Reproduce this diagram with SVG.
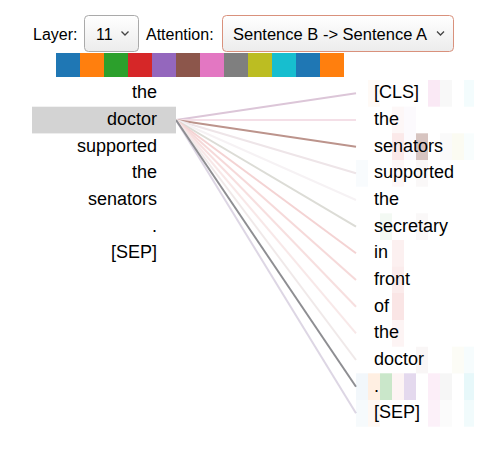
<svg xmlns="http://www.w3.org/2000/svg" width="500" height="450" viewBox="0 0 500 450">
<defs>
<linearGradient id="selg" x1="0" y1="0" x2="0" y2="1">
<stop offset="0" stop-color="#ffffff"/>
<stop offset="1" stop-color="#ececec"/>
</linearGradient>
</defs>
<style>
text{font-family:"Liberation Sans",Arial,sans-serif;fill:#000}
.ui{font-size:16px}
.tok{font-size:18px}
.l{text-anchor:end}
.sel{fill:url(#selg);stroke:#aaaaaa;stroke-width:1}
.chev{fill:none;stroke:#444;stroke-width:1.3}
.ln{stroke-width:2;fill:none}
.c0{fill:#1f77b4}.c1{fill:#ff7f0e}.c2{fill:#2ca02c}.c3{fill:#d62728}.c4{fill:#9467bd}.c5{fill:#8c564b}.c6{fill:#e377c2}.c7{fill:#7f7f7f}.c8{fill:#bcbd22}.c9{fill:#17becf}
</style>

<g id="controls">
<text class="ui" x="33" y="40">Layer:</text>
<rect class="sel" x="84.5" y="15.5" width="54" height="36" rx="4"/>
<text class="ui" x="96" y="40">11</text>
<path class="chev" d="M121.5 31.5 L125 35 L128.5 31.5"/>
<text class="ui" x="146" y="40">Attention:</text>
<rect class="sel" x="222.5" y="15.5" width="231" height="36" rx="4" style="stroke:#d9917c"/>
<text class="ui" x="233" y="40" style="font-size:16.5px">Sentence B -&gt; Sentence A</text>
<path class="chev" d="M437 31.5 L440.5 35 L444 31.5"/>
</g>

<g id="head-legend">
<rect class="c0" x="56" y="53" width="24" height="24"/>
<rect class="c1" x="80" y="53" width="24" height="24"/>
<rect class="c2" x="104" y="53" width="24" height="24"/>
<rect class="c3" x="128" y="53" width="24" height="24"/>
<rect class="c4" x="152" y="53" width="24" height="24"/>
<rect class="c5" x="176" y="53" width="24" height="24"/>
<rect class="c6" x="200" y="53" width="24" height="24"/>
<rect class="c7" x="224" y="53" width="24" height="24"/>
<rect class="c8" x="248" y="53" width="24" height="24"/>
<rect class="c9" x="272" y="53" width="24" height="24"/>
<rect class="c0" x="296" y="53" width="24" height="24"/>
<rect class="c1" x="320" y="53" width="24" height="24"/>
</g>

<g id="connectors">
<line class="ln" x1="176" y1="120" x2="356" y2="93.3" stroke="#dcc6d8"/>
<line class="ln" x1="176" y1="120" x2="356" y2="120" stroke="#f4dfe7"/>
<line class="ln" x1="176" y1="120" x2="356" y2="146.7" stroke="#bc948c"/>
<line class="ln" x1="176" y1="120" x2="356" y2="173.3" stroke="#eee5e8"/>
<line class="ln" x1="176" y1="120" x2="356" y2="200" stroke="#f6f2f4"/>
<line class="ln" x1="176" y1="120" x2="356" y2="226.7" stroke="#dcdcd6"/>
<line class="ln" x1="176" y1="120" x2="356" y2="253.3" stroke="#f4d3d3"/>
<line class="ln" x1="176" y1="120" x2="356" y2="280" stroke="#f6d9d9"/>
<line class="ln" x1="176" y1="120" x2="356" y2="306.7" stroke="#f7dfdf"/>
<line class="ln" x1="176" y1="120" x2="356" y2="333.3" stroke="#f8e8e8"/>
<line class="ln" x1="176" y1="120" x2="356" y2="360" stroke="#f0e9e9"/>
<line class="ln" x1="176" y1="120" x2="356" y2="413.3" stroke="#ddd6e4"/>
<line class="ln" x1="176" y1="120" x2="356" y2="386.7" stroke="#8e8e92"/>
</g>

<g id="left-tokens">
<g id="l0"><text class="tok l" x="157" y="98.3">the</text></g>
<g id="l1"><rect x="32" y="106.7" width="144" height="26.7" fill="#d3d3d3"/><text class="tok l" x="157" y="125">doctor</text></g>
<g id="l2"><text class="tok l" x="157" y="151.7">supported</text></g>
<g id="l3"><text class="tok l" x="157" y="178.3">the</text></g>
<g id="l4"><text class="tok l" x="157" y="205">senators</text></g>
<g id="l5"><text class="tok l" x="157" y="231.7">.</text></g>
<g id="l6"><text class="tok l" x="157" y="258.3">[SEP]</text></g>
</g>

<g id="right-heatmap">
<rect class="c1" x="368" y="80" width="12" height="26.7" fill-opacity="0.04"/>
<rect class="c6" x="428" y="80" width="12" height="26.7" fill-opacity="0.16"/>
<rect class="c7" x="440" y="80" width="12" height="26.7" fill-opacity="0.05"/>
<rect class="c9" x="464" y="80" width="10" height="26.7" fill-opacity="0.05"/>
<rect class="c3" x="392" y="106.7" width="12" height="26.7" fill-opacity="0.04"/>
<rect class="c4" x="404" y="106.7" width="12" height="26.7" fill-opacity="0.03"/>
<rect class="c3" x="392" y="133.3" width="12" height="26.7" fill-opacity="0.1"/>
<rect class="c4" x="404" y="133.3" width="12" height="26.7" fill-opacity="0.03"/>
<rect class="c5" x="416" y="133.3" width="12" height="26.7" fill-opacity="0.35"/>
<rect class="c7" x="440" y="133.3" width="12" height="26.7" fill-opacity="0.04"/>
<rect class="c8" x="452" y="133.3" width="12" height="26.7" fill-opacity="0.06"/>
<rect class="c9" x="464" y="133.3" width="10" height="26.7" fill-opacity="0.03"/>
<rect class="c0" x="356" y="160" width="12" height="26.7" fill-opacity="0.03"/>
<rect class="c3" x="392" y="160" width="12" height="26.7" fill-opacity="0.03"/>
<rect class="c5" x="416" y="160" width="12" height="26.7" fill-opacity="0.04"/>
<rect class="c2" x="380" y="213.3" width="12" height="26.7" fill-opacity="0.06"/>
<rect class="c5" x="416" y="213.3" width="12" height="26.7" fill-opacity="0.04"/>
<rect class="c3" x="392" y="240" width="12" height="26.7" fill-opacity="0.07"/>
<rect class="c3" x="392" y="266.7" width="12" height="26.7" fill-opacity="0.09"/>
<rect class="c3" x="392" y="293.3" width="12" height="26.7" fill-opacity="0.12"/>
<rect class="c3" x="392" y="320" width="12" height="26.7" fill-opacity="0.05"/>
<rect class="c5" x="416" y="346.7" width="12" height="26.7" fill-opacity="0.05"/>
<rect class="c8" x="452" y="346.7" width="12" height="26.7" fill-opacity="0.04"/>
<rect class="c9" x="464" y="346.7" width="10" height="26.7" fill-opacity="0.04"/>
<rect class="c0" x="356" y="373.3" width="12" height="26.7" fill-opacity="0.06"/>
<rect class="c1" x="368" y="373.3" width="12" height="26.7" fill-opacity="0.12"/>
<rect class="c2" x="380" y="373.3" width="12" height="26.7" fill-opacity="0.25"/>
<rect class="c3" x="392" y="373.3" width="12" height="26.7" fill-opacity="0.05"/>
<rect class="c4" x="404" y="373.3" width="12" height="26.7" fill-opacity="0.25"/>
<rect class="c6" x="428" y="373.3" width="12" height="26.7" fill-opacity="0.12"/>
<rect class="c7" x="440" y="373.3" width="12" height="26.7" fill-opacity="0.07"/>
<rect class="c9" x="464" y="373.3" width="10" height="26.7" fill-opacity="0.1"/>
<rect class="c0" x="356" y="400" width="12" height="26.7" fill-opacity="0.04"/>
<rect class="c1" x="368" y="400" width="12" height="26.7" fill-opacity="0.05"/>
<rect class="c6" x="428" y="400" width="12" height="26.7" fill-opacity="0.1"/>
<rect class="c7" x="440" y="400" width="12" height="26.7" fill-opacity="0.03"/>
<rect class="c9" x="464" y="400" width="10" height="26.7" fill-opacity="0.06"/>
</g>

<g id="right-tokens">
<g id="r0"><text class="tok" x="374" y="98.3">[CLS]</text></g>
<g id="r1"><text class="tok" x="374" y="125">the</text></g>
<g id="r2"><text class="tok" x="374" y="151.7">senators</text></g>
<g id="r3"><text class="tok" x="374" y="178.3">supported</text></g>
<g id="r4"><text class="tok" x="374" y="205">the</text></g>
<g id="r5"><text class="tok" x="374" y="231.7">secretary</text></g>
<g id="r6"><text class="tok" x="374" y="258.3">in</text></g>
<g id="r7"><text class="tok" x="374" y="285">front</text></g>
<g id="r8"><text class="tok" x="374" y="311.7">of</text></g>
<g id="r9"><text class="tok" x="374" y="338.3">the</text></g>
<g id="r10"><text class="tok" x="374" y="365">doctor</text></g>
<g id="r11"><text class="tok" x="374" y="391.7">.</text></g>
<g id="r12"><text class="tok" x="374" y="418.3">[SEP]</text></g>
</g>
</svg>
